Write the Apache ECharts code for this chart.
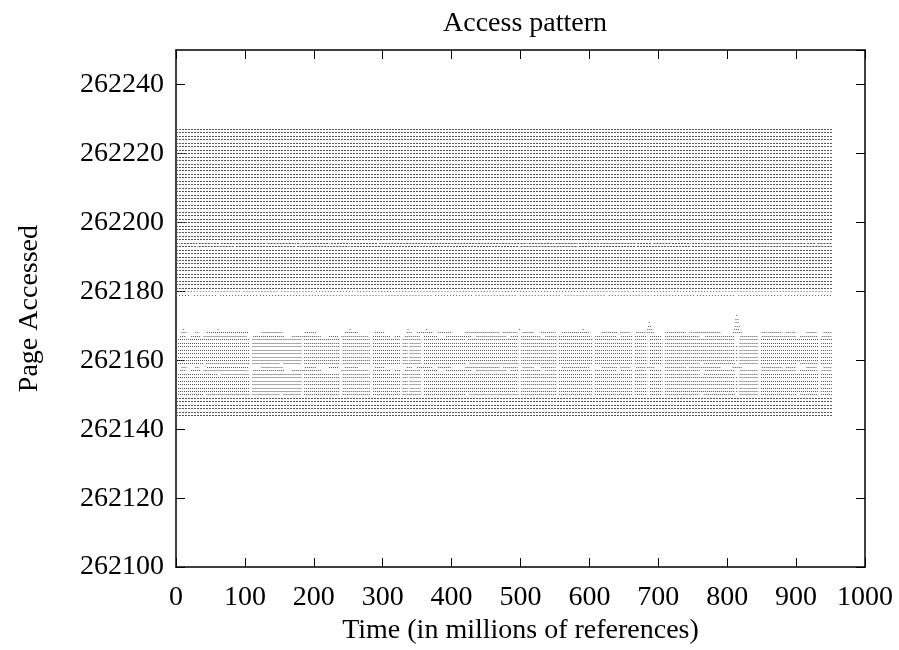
<!DOCTYPE html>
<html>
<head>
<meta charset="utf-8">
<script src="https://cdn.jsdelivr.net/npm/echarts@6/dist/echarts.min.js"></script>
<style>
  html, body { margin: 0; padding: 0; background: #fff; }
  #chart { width: 899px; height: 650px; }
</style>
</head>
<body>
<div id="chart"></div>
<script>
// Axis ticks
const xTicks = [0, 100, 200, 300, 400, 500, 600, 700, 800, 900, 1000];
const yTicks = [262100, 262120, 262140, 262160, 262180, 262200, 262220, 262240];

// Pages touched throughout the whole run (time in millions of references)
const fullSpan = [0, 952];
const fullPages = [
  262144, 262145, 262146, 262147, 262148, 262149,
  262181, 262182, 262183, 262184, 262185, 262186, 262187, 262188,
  262189, 262190, 262191, 262192, 262195, 262196, 262197, 262198,
  262199, 262200, 262201, 262202, 262203, 262204, 262205, 262206, 262207, 262208,
  262209, 262210, 262211, 262212, 262213, 262214, 262215, 262216, 262217, 262218,
  262219, 262220, 262221, 262222, 262223, 262224, 262225, 262226, 262227
];

// Long-lived pages with a few short idle gaps: [page, [[start, end], ...]]
const gappedRows = [
  [262194, [[0, 5], [7, 31], [33, 53], [55, 63], [65, 85], [87, 131], [133, 174], [176, 181], [183, 223], [225, 252], [254, 293], [295, 498], [500, 510], [512, 549], [551, 583], [585, 600], [602, 614], [616, 667], [669, 691], [693, 718], [720, 747], [749, 764], [766, 817], [819, 839], [841, 878], [880, 914], [916, 929], [931, 952]]],
  [262193, [[0, 31], [33, 85], [87, 174], [176, 252], [254, 498], [500, 583], [585, 667], [669, 747], [749, 817], [819, 878], [880, 952]]]
];

// Pages touched with a broken, dotted pattern at the lower edge of the upper block
const brokenRows = [
  [262180, [[0, 14], [17, 40], [43, 95], [98, 150], [153, 200], [203, 260], [263, 330], [333, 400], [403, 470], [473, 540], [543, 600], [603, 660], [663, 720], [723, 790], [793, 860], [863, 952]]],
  [262179, [[0, 22], [26, 60], [64, 118], [122, 180], [184, 242], [246, 300], [304, 372], [376, 431], [435, 495], [499, 560], [564, 624], [628, 690], [694, 752], [756, 812], [816, 880], [884, 952]]]
];

// Working-set pages touched in bursts: [page, [[start, end], ...]]
const burstRows = [
  [262173, [[813, 816]]],
  [262172, [[812, 817]]],
  [262171, [[686, 689], [812, 817]]],
  [262170, [[685, 690], [811, 818]]],
  [262169, [[10, 13], [60, 63], [252, 255], [336, 339], [363, 366], [498, 501], [590, 593], [684, 691], [810, 819]]],
  [262168, [[8, 15], [28, 34], [45, 105], [124, 156], [187, 204], [245, 265], [289, 303], [335, 342], [350, 372], [380, 400], [420, 470], [475, 496], [503, 520], [530, 551], [560, 600], [618, 640], [645, 660], [668, 682], [684, 694], [710, 740], [745, 790], [808, 822], [850, 880], [885, 900], [915, 930], [940, 952]]],
  [262167, [[6, 15], [22, 35], [40, 103], [112, 158], [168, 211], [222, 236], [240, 279], [286, 311], [318, 326], [332, 354], [360, 380], [392, 430], [436, 480], [486, 497], [501, 530], [536, 552], [556, 603], [608, 640], [646, 662], [666, 683], [688, 705], [710, 760], [768, 810], [819, 844], [850, 900], [906, 931], [937, 952]]],
  [262166, [[3, 107], [111, 182], [186, 238], [242, 282], [286, 325], [329, 356], [360, 420], [424, 497], [501, 552], [556, 604], [608, 662], [666, 684], [688, 706], [710, 811], [818, 845], [849, 932], [936, 952]]],
  [262165, [[0, 107], [111, 182], [186, 238], [242, 282], [286, 325], [329, 336], [339, 356], [360, 497], [501, 552], [556, 604], [608, 662], [666, 684], [688, 706], [710, 811], [818, 845], [849, 932], [936, 952]]],
  [262164, [[0, 107], [111, 182], [186, 238], [242, 282], [286, 325], [329, 336], [339, 356], [360, 497], [501, 552], [556, 604], [608, 662], [666, 684], [688, 706], [710, 811], [813, 816], [818, 845], [849, 932], [936, 952]]],
  [262163, [[0, 107], [111, 182], [186, 238], [242, 282], [286, 325], [329, 336], [339, 356], [360, 497], [501, 552], [556, 604], [608, 662], [666, 684], [688, 706], [710, 811], [813, 816], [818, 845], [849, 932], [936, 952]]],
  [262162, [[0, 107], [111, 182], [186, 238], [242, 282], [286, 325], [329, 336], [339, 356], [360, 497], [501, 552], [556, 604], [608, 662], [666, 684], [688, 706], [710, 811], [813, 816], [818, 845], [849, 932], [936, 952]]],
  [262161, [[0, 107], [111, 182], [186, 238], [242, 282], [286, 325], [329, 336], [339, 356], [360, 497], [501, 552], [556, 604], [608, 662], [666, 684], [688, 706], [710, 811], [813, 816], [818, 845], [849, 932], [936, 952]]],
  [262160, [[0, 107], [111, 182], [186, 238], [242, 282], [286, 325], [329, 336], [339, 356], [360, 497], [501, 552], [556, 604], [608, 662], [666, 684], [688, 706], [710, 811], [813, 816], [818, 845], [849, 932], [936, 952]]],
  [262159, [[0, 40], [44, 107], [111, 150], [156, 182], [186, 238], [242, 282], [286, 325], [329, 356], [360, 420], [426, 497], [501, 552], [556, 604], [608, 662], [666, 684], [688, 706], [710, 760], [766, 811], [818, 845], [849, 900], [906, 932], [936, 952]]],
  [262158, [[8, 15], [28, 34], [45, 105], [124, 156], [187, 204], [222, 236], [245, 265], [289, 303], [335, 342], [350, 372], [380, 400], [420, 470], [475, 496], [503, 520], [530, 551], [560, 600], [618, 640], [645, 660], [668, 682], [684, 694], [710, 740], [745, 790], [808, 822], [850, 880], [885, 900], [915, 930], [940, 952]]],
  [262157, [[6, 15], [22, 35], [40, 103], [112, 158], [168, 211], [240, 279], [286, 311], [318, 326], [332, 354], [360, 380], [392, 430], [436, 480], [486, 497], [501, 530], [536, 552], [556, 603], [608, 640], [646, 662], [666, 683], [688, 705], [710, 760], [768, 810], [819, 844], [850, 900], [906, 931], [937, 952]]],
  [262156, [[3, 60], [66, 107], [111, 182], [186, 238], [242, 282], [286, 325], [329, 356], [360, 420], [424, 497], [501, 552], [556, 604], [608, 662], [666, 684], [688, 706], [710, 760], [766, 811], [818, 845], [849, 932], [936, 952]]],
  [262155, [[0, 107], [111, 182], [186, 238], [242, 282], [286, 325], [329, 336], [339, 356], [360, 497], [501, 552], [556, 604], [608, 662], [666, 684], [688, 706], [710, 811], [813, 816], [818, 845], [849, 932], [936, 952]]],
  [262154, [[0, 107], [111, 182], [186, 238], [242, 282], [286, 325], [329, 336], [339, 356], [360, 497], [501, 552], [556, 604], [608, 662], [666, 684], [688, 706], [710, 811], [813, 816], [818, 845], [849, 932], [936, 952]]],
  [262153, [[0, 107], [111, 182], [186, 238], [242, 282], [286, 325], [329, 336], [339, 356], [360, 497], [501, 552], [556, 604], [608, 662], [666, 684], [688, 706], [710, 811], [813, 816], [818, 845], [849, 932], [936, 952]]],
  [262152, [[0, 107], [111, 182], [186, 238], [242, 282], [286, 325], [329, 336], [339, 356], [360, 497], [501, 552], [556, 604], [608, 662], [666, 684], [688, 706], [710, 811], [813, 816], [818, 845], [849, 932], [936, 952]]],
  [262151, [[0, 107], [111, 182], [186, 238], [242, 282], [286, 325], [329, 336], [339, 356], [360, 497], [501, 552], [556, 604], [608, 662], [666, 684], [688, 706], [710, 811], [813, 816], [818, 845], [849, 932], [936, 952]]],
  [262150, [[0, 40], [44, 107], [111, 150], [156, 182], [186, 238], [242, 282], [286, 325], [329, 356], [360, 420], [426, 497], [501, 552], [556, 604], [608, 662], [666, 684], [688, 706], [710, 760], [766, 811], [818, 845], [849, 900], [906, 932], [936, 952]]]
];

// Turn [page, spans] rows into two-point segments for a lines series
function toSegments(rows) {
  const out = [];
  rows.forEach(([p, spans]) => {
    spans.forEach(([a, b]) => out.push({ coords: [[a, p], [b, p]] }));
  });
  return out;
}
const fullSegments = fullPages.map(p => ({ coords: [[fullSpan[0], p], [fullSpan[1], p]] }))
  .concat(toSegments(gappedRows));
const brokenSegments = toSegments(brokenRows);
const burstSegments = toSegments(burstRows);

const serif = '"Liberation Serif", "DejaVu Serif", serif';
const chart = echarts.init(document.getElementById('chart'), null, { renderer: 'canvas' });

const axisLineStyle = { color: '#000', width: 1.5 };
const tickStyle = { color: '#000', width: 1 };
const plain = v => String(v);

chart.setOption({
  animation: false,
  backgroundColor: '#fff',
  title: {
    text: 'Access pattern',
    left: 520, top: 5, textAlign: 'center',
    textStyle: { fontFamily: serif, fontSize: 28, fontWeight: 'normal', color: '#000' }
  },
  grid: { left: 176, right: 34, top: 50, bottom: 81, containLabel: false },
  xAxis: [{
    type: 'value', min: 0, max: 1000, interval: 100,
    name: 'Time (in millions of references)', nameLocation: 'middle', nameGap: 45,
    nameTextStyle: { fontFamily: serif, fontSize: 28, color: '#000' },
    axisLine: { show: true, onZero: false, lineStyle: axisLineStyle },
    axisTick: { show: true, inside: true, length: 9, lineStyle: tickStyle },
    axisLabel: { fontFamily: serif, fontSize: 28, color: '#000', margin: 17, formatter: plain },
    splitLine: { show: false }
  }, {
    type: 'value', position: 'top', min: 0, max: 1000, interval: 100,
    axisLine: { show: true, onZero: false, lineStyle: axisLineStyle },
    axisTick: { show: true, inside: true, length: 9, lineStyle: tickStyle },
    axisLabel: { show: false }, splitLine: { show: false }
  }],
  yAxis: [{
    type: 'value', min: 262100, max: 262250, interval: 20,
    name: 'Page Accessed', nameLocation: 'middle', nameGap: 132, nameRotate: 90,
    nameTextStyle: { fontFamily: serif, fontSize: 28, color: '#000' },
    axisLine: { show: true, onZero: false, lineStyle: axisLineStyle },
    axisTick: { show: true, inside: true, length: 9, lineStyle: tickStyle },
    axisLabel: { fontFamily: serif, fontSize: 28, color: '#000', margin: 12, showMaxLabel: false, formatter: plain },
    splitLine: { show: false }
  }, {
    type: 'value', position: 'right', min: 262100, max: 262250, interval: 20,
    axisLine: { show: true, onZero: false, lineStyle: axisLineStyle },
    axisTick: { show: true, inside: true, length: 9, lineStyle: tickStyle },
    axisLabel: { show: false }, splitLine: { show: false }
  }],
  series: [{
    type: 'lines', coordinateSystem: 'cartesian2d', polyline: false, silent: true,
    lineStyle: { color: '#555', width: 1, type: [2, 1], opacity: 1 },
    data: fullSegments
  }, {
    type: 'lines', coordinateSystem: 'cartesian2d', polyline: false, silent: true,
    lineStyle: { color: '#666', width: 1, type: [1, 2], opacity: 1 },
    data: brokenSegments
  }, {
    type: 'lines', coordinateSystem: 'cartesian2d', polyline: false, silent: true,
    lineStyle: { color: '#555', width: 1, type: [1, 1], opacity: 1 },
    data: burstSegments
  }]
});
</script>
</body>
</html>
